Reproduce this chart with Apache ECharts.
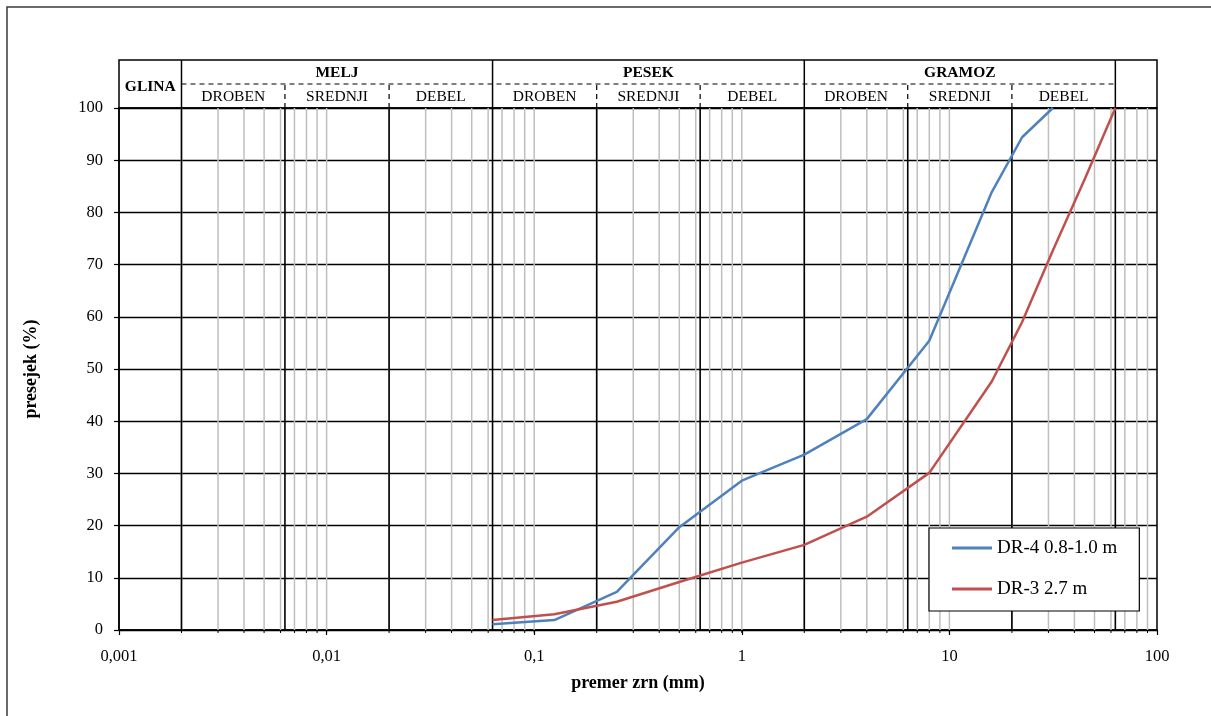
<!DOCTYPE html>
<html>
<head>
<meta charset="utf-8">
<script src="https://cdn.jsdelivr.net/npm/echarts@6/dist/echarts.min.js"></script>
<style>
html,body{margin:0;padding:0;background:#fff;}
#chart{width:1211px;height:716px;}
</style>
</head>
<body>
<div id="chart"></div>
<script>
// ---- data ----
const seriesNames = ['DR-4 0.8-1.0 m', 'DR-3 2.7 m'];
const sieveDR4 = [0.063, 0.125, 0.25, 0.5, 1, 2, 4, 8, 16, 22.4, 31.5];
const passDR4  = [1.1, 1.9, 7.3, 19.7, 28.6, 33.6, 40.4, 55.4, 83.9, 94.4, 100];
const sieveDR3 = [0.063, 0.125, 0.25, 0.5, 1, 2, 4, 8, 16, 22.4, 31.5, 45, 63];
const passDR3  = [1.9, 3.0, 5.4, 9.2, 12.9, 16.3, 21.7, 30.1, 47.6, 59.0, 72.7, 86.5, 100];
const xTickLabels = {0.001:'0,001', 0.01:'0,01', 0.1:'0,1', 1:'1', 10:'10', 100:'100'};

// soil classification header
const mainClasses = ['GLINA', 'MELJ', 'PESEK', 'GRAMOZ'];
const mainBounds  = [0.001, 0.002, 0.063, 2, 63];
const subClasses  = ['DROBEN', 'SREDNJI', 'DEBEL'];
const subBounds   = [[0.002, 0.0063, 0.02, 0.063], [0.063, 0.2, 0.63, 2], [2, 6.3, 20, 63]];
const classLines  = [0.002, 0.0063, 0.02, 0.063, 0.2, 0.63, 2, 6.3, 20, 63];
const decades = [0.001, 0.01, 0.1, 1, 10];
const minorMultipliers = [1, 2, 3, 4, 5, 6, 7, 8, 9];

// ---- build ----
const minorLines = [];
decades.forEach(d => minorMultipliers.forEach(m => { const v = +(d * m).toPrecision(3); if (v > 0.001) minorLines.push(v); }));

const FONT = '"Liberation Serif","Times New Roman",serif';

// header cells: [x1, x2, y1, y2, label, bold]
const headerCells = [];
headerCells.push([mainBounds[0], mainBounds[1], 0, 2, mainClasses[0], 1]);
for (let i = 1; i < mainClasses.length; i++) {
  headerCells.push([mainBounds[i], mainBounds[i + 1], 1, 2, mainClasses[i], 1]);
  const sb = subBounds[i - 1];
  for (let j = 0; j < 3; j++) headerCells.push([sb[j], sb[j + 1], 0, 1, subClasses[j], 0]);
}
// header lines: [x1, y1, x2, y2, dashed]
const headerLines = [];
for (let i = 1; i < mainBounds.length; i++) headerLines.push([mainBounds[i], 0, mainBounds[i], 2, 0]);
headerLines.push([mainBounds[1], 1, mainBounds[4], 1, 1]);
subBounds.forEach(sb => { headerLines.push([sb[1], 0, sb[1], 1, 1]); headerLines.push([sb[2], 0, sb[2], 1, 1]); });

function vLineSeries(vals, color, width, z, tickLen) {
  return {
    type: 'custom', xAxisIndex: 0, yAxisIndex: 0, silent: true, z: z, clip: false,
    data: vals.map(v => [v, 0]),
    renderItem: function (params, api) {
      const b = api.coord([api.value(0), 0]);
      const t = api.coord([api.value(0), 100]);
      const children = [{ type: 'line', shape: { x1: b[0], y1: b[1], x2: t[0], y2: t[1] },
        style: { stroke: color, lineWidth: width } }];
      if (tickLen) children.push({ type: 'line', shape: { x1: b[0], y1: b[1], x2: b[0], y2: b[1] + tickLen },
        style: { stroke: '#000', lineWidth: 1 } });
      return { type: 'group', children: children };
    }
  };
}

const chart = echarts.init(document.getElementById('chart'), null, { renderer: 'canvas' });
const option = {
  animation: false,
  backgroundColor: '#fff',
  graphic: [{
    type: 'rect', shape: { x: 7, y: 7, width: 1220, height: 730 },
    style: { fill: 'none', stroke: '#3a3a3a', lineWidth: 1.5 }, silent: true, z: -10
  }],
  grid: [
    { left: 119, right: 54, top: 108, bottom: 86, show: true, borderColor: '#000', borderWidth: 1.5, backgroundColor: 'transparent' },
    { left: 119, right: 54, top: 60, height: 48, show: true, borderColor: '#000', borderWidth: 1.5 }
  ],
  legend: {
    data: seriesNames,
    orient: 'vertical',
    left: 929, top: 528,
    padding: [9, 22, 11, 23],
    icon: 'rect',
    itemWidth: 40, itemHeight: 3, itemGap: 19,
    backgroundColor: '#fff', borderColor: '#000', borderWidth: 1.2,
    textStyle: { fontFamily: FONT, fontSize: 19, lineHeight: 22, color: '#000', padding: [0, 0, 0, 0] },
    z: 20
  },
  xAxis: [{
    type: 'log', logBase: 10, min: 0.001, max: 100, gridIndex: 0,
    name: 'premer zrn (mm)', nameLocation: 'middle', nameGap: 44,
    nameTextStyle: { fontFamily: FONT, fontSize: 18, fontWeight: 'bold', color: '#000' },
    axisLine: { lineStyle: { color: '#000', width: 1.5 } },
    axisTick: { show: true, length: 5, lineStyle: { color: '#000', width: 1.2 } },
    axisLabel: { margin: 18, fontFamily: FONT, fontSize: 16.5, color: '#000', formatter: v => xTickLabels[v] || '' },
    splitLine: { show: false }
  }, {
    type: 'log', logBase: 10, min: 0.001, max: 100, gridIndex: 1, show: false
  }],
  yAxis: [{
    type: 'value', min: 0, max: 100, interval: 10, gridIndex: 0,
    name: 'presejek (%)', nameLocation: 'middle', nameGap: 79, nameRotate: 90,
    nameTextStyle: { fontFamily: FONT, fontSize: 18, fontWeight: 'bold', color: '#000' },
    axisLine: { show: true, lineStyle: { color: '#000', width: 1.5 } },
    axisTick: { show: true, length: 5, lineStyle: { color: '#000', width: 1.2 } },
    axisLabel: { margin: 16, fontFamily: FONT, fontSize: 16.5, color: '#000' },
    splitLine: { show: true, lineStyle: { color: '#000', width: 1.3 } }
  }, {
    type: 'value', min: 0, max: 2, gridIndex: 1, show: false
  }],
  series: [
    Object.assign({ name: 'minor' }, vLineSeries(minorLines, '#bfbfbf', 1.5, 1, 3)),
    Object.assign({ name: 'class' }, vLineSeries(classLines, '#000', 1.6, 2, 0)),
    {
      name: seriesNames[0], type: 'line', z: 5, symbol: 'none', smooth: false,
      lineStyle: { color: '#4F81BD', width: 2.5 }, itemStyle: { color: '#4F81BD' },
      data: sieveDR4.map((x, i) => [x, passDR4[i]])
    },
    {
      name: seriesNames[1], type: 'line', z: 5, symbol: 'none', smooth: false,
      lineStyle: { color: '#C0504D', width: 2.5 }, itemStyle: { color: '#C0504D' },
      data: sieveDR3.map((x, i) => [x, passDR3[i]])
    },
    {
      name: 'headerLines', type: 'custom', xAxisIndex: 1, yAxisIndex: 1, silent: true, z: 3,
      data: headerLines,
      renderItem: function (params, api) {
        const p1 = api.coord([api.value(0), api.value(1)]);
        const p2 = api.coord([api.value(2), api.value(3)]);
        const dashed = api.value(4) === 1;
        return { type: 'line', shape: { x1: p1[0], y1: p1[1], x2: p2[0], y2: p2[1] },
          style: { stroke: '#000', lineWidth: dashed ? 1.2 : 1.5, lineDash: dashed ? [5, 4] : null } };
      }
    },
    {
      name: 'headerText', type: 'custom', xAxisIndex: 1, yAxisIndex: 1, silent: true, z: 4,
      data: headerCells.map(c => [c[0], c[1], c[2], c[3]]),
      renderItem: function (params, api) {
        const c = headerCells[params.dataIndex];
        const a = api.coord([c[0], c[3]]);
        const b = api.coord([c[1], c[2]]);
        const dy = (c[5] && c[3] - c[2] === 2) ? 3 : 1;
        return { type: 'text', style: {
          text: c[4], x: (a[0] + b[0]) / 2, y: (a[1] + b[1]) / 2 + dy,
          align: 'center', verticalAlign: 'middle',
          fontFamily: FONT, fontSize: 15.5, fontWeight: c[5] ? 'bold' : 'normal', fill: '#000' } };
      }
    }
  ]
};
chart.setOption(option);
</script>
</body>
</html>
